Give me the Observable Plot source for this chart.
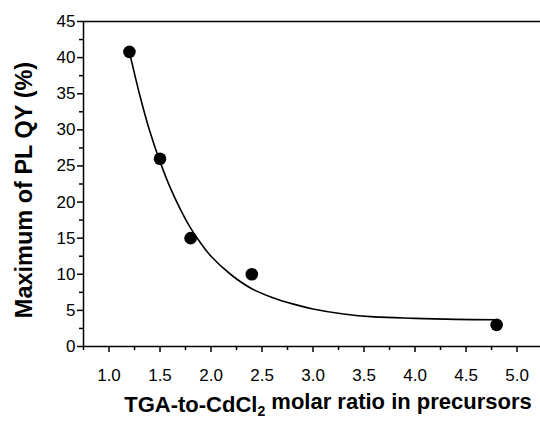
<!DOCTYPE html>
<html>
<head>
<meta charset="utf-8">
<script src="https://cdn.jsdelivr.net/npm/d3@7"></script>
<script src="https://cdn.jsdelivr.net/npm/@observablehq/plot@0.6"></script>
<style>
  html, body { margin: 0; padding: 0; background: #fff; }
  #chart { width: 540px; height: 441px; overflow: hidden; }
</style>
</head>
<body>
<div id="chart"></div>
<script>
// Measured points
const ratio = [1.2, 1.5, 1.8, 2.4, 4.8];
const plqy  = [40.8, 26.0, 15.0, 10.0, 3.0];

// Fitted curve
const fitX = [1.2, 1.3, 1.4, 1.5, 1.6, 1.7, 1.8, 1.9, 2.0, 2.2, 2.4, 2.6, 2.8, 3.0, 3.3, 3.6, 4.0, 4.4, 4.8];
const fitY = [40.8, 34.9, 29.8, 25.6, 22.0, 19.0, 16.4, 14.3, 12.5, 9.9, 8.0, 6.8, 5.9, 5.2, 4.5, 4.1, 3.9, 3.75, 3.7];

// Tick values
const xMajor = [1.0, 1.5, 2.0, 2.5, 3.0, 3.5, 4.0, 4.5, 5.0];
const xMinor = [0.75, 1.25, 1.75, 2.25, 2.75, 3.25, 3.75, 4.25, 4.75, 5.25];
const yMajor = [0, 5, 10, 15, 20, 25, 30, 35, 40, 45];
const yMinor = [2.5, 7.5, 12.5, 17.5, 22.5, 27.5, 32.5, 37.5, 42.5];

const xTitle = "TGA-to-CdCl2 molar ratio in precursors";
const yTitle = "Maximum of PL QY (%)";

const points = ratio.map((x, i) => ({x, y: plqy[i]}));
const fit = fitX.map((x, i) => ({x, y: fitY[i]}));

const xDomain = [0.75, 5.23];

const plot = Plot.plot({
  width: 540,
  height: 441,
  marginLeft: 83,
  marginRight: 0,
  marginTop: 21,
  marginBottom: 95,
  style: {fontFamily: "'Liberation Sans', Arial, sans-serif", fontSize: "17px", color: "#000", background: "#fff"},
  x: {domain: xDomain},
  y: {domain: [0, 45]},
  marks: [
    Plot.axisX(xMajor, {tickSize: 6, tickPadding: 16, tickFormat: d => d.toFixed(1), label: null, strokeWidth: 1.5, fontSize: 17}),
    Plot.axisX(xMinor.filter(v => v <= xDomain[1]), {tickSize: 4, tickFormat: () => "", label: null, strokeWidth: 1.5}),
    Plot.axisY(yMajor, {tickSize: 6, tickPadding: 2, tickFormat: d => String(d), label: null, strokeWidth: 1.5, fontSize: 17}),
    Plot.axisY(yMinor, {tickSize: 4, tickFormat: () => "", label: null, strokeWidth: 1.5}),
    Plot.ruleY([0], {stroke: "#000", strokeWidth: 1.5}),
    Plot.ruleY([45], {stroke: "#000", strokeWidth: 1.5}),
    Plot.ruleX([xDomain[0]], {stroke: "#000", strokeWidth: 1.5}),
    Plot.line(fit, {x: "x", y: "y", curve: "catmull-rom", stroke: "#000", strokeWidth: 1.6}),
    Plot.dot(points, {x: "x", y: "y", r: 6.3, fill: "#000", stroke: "none"}),
    Plot.text([yTitle], {text: d => d, frameAnchor: "left", rotate: -90, dx: -59, dy: 6, textAnchor: "middle", fontSize: 23.5, fontWeight: "bold"}),
    Plot.text([xTitle], {text: d => d, frameAnchor: "bottom", dy: 65, dx: 16, textAnchor: "middle", fontSize: 22, fontWeight: "bold"})
  ]
});

document.getElementById("chart").appendChild(plot);

// Render the "2" of CdCl2 as a subscript
d3.select(plot).selectAll("text").each(function() {
  const t = d3.select(this);
  if (t.text() === xTitle) {
    const parts = ["TGA-to-CdCl", "2", " molar ratio in precursors"];
    t.text(null);
    t.append("tspan").text(parts[0]);
    t.append("tspan").attr("dy", "0.35em").attr("font-size", "14px").text(parts[1]);
    t.append("tspan").attr("dy", "-0.35em").text(parts[2]);
  }
});
</script>
</body>
</html>
